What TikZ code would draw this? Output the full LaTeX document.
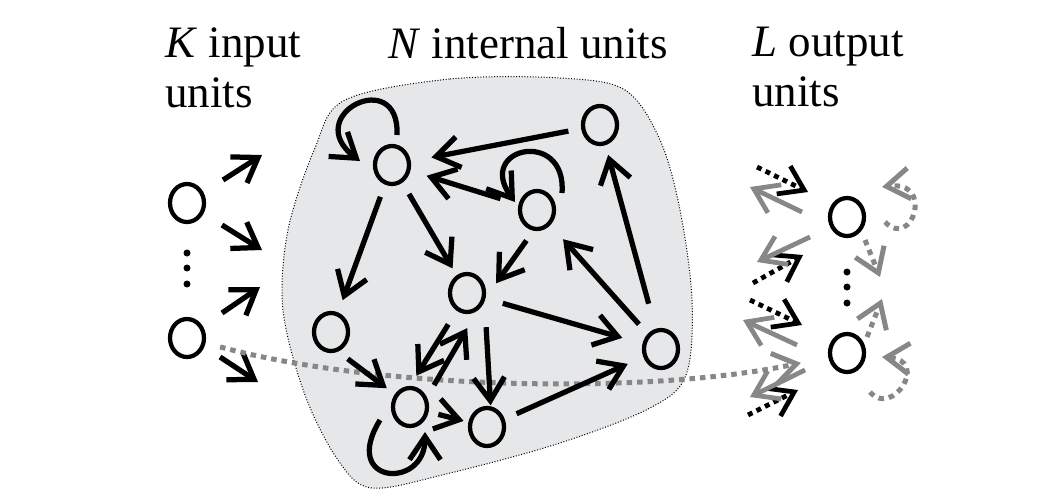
\documentclass[tikz,border=0pt]{standalone}
\usepackage{fontspec}
\setmainfont{Liberation Serif}
\usetikzlibrary{shapes.geometric,arrows.meta}
\definecolor{pool}{RGB}{230,231,233}
\definecolor{fback}{RGB}{135,135,135}
\tikzstyle{unit} = [draw,ellipse,line width=0.085cm,inner sep=0,minimum width=0.68cm,minimum height=0.76cm]
\tikzstyle{wire} = [->,line width=0.105cm]
\tikzstyle{link} = [wire,shorten <=0.26cm,shorten >=0.26cm]
\tikzstyle{readout} = [->,line width=0.095cm,dash pattern=on 0.1cm off 0.09cm]
\tikzstyle{feedback} = [->,line width=0.095cm,fback]
\tikzstyle{direct} = [->,line width=0.1cm,fback,dash pattern=on 0.11cm off 0.1cm]
\tikzstyle{groupname} = [align=left,inner sep=0,anchor=north west,font=\fontsize{25.6}{28.5}\selectfont]

\begin{document}
\begin{tikzpicture}[x=0.02cm,y=-0.02cm,>={Straight Barb[length=0.46cm,width=0.62cm]}]
  \useasboundingbox (0,0) rectangle (1064,498);
  % reservoir
  \fill[pool] plot[smooth cycle,tension=0.55] coordinates {(345,100) (450,79) (560,78) (625,90) (660,140) (680,210) (692,300) (686,375) (650,408) (560,443) (450,473) (372,488) (338,460) (305,395) (283,310) (288,230) (315,148)};
  \draw[densely dotted,line width=0.02cm] plot[smooth cycle,tension=0.55] coordinates {(345,100) (450,79) (560,78) (625,90) (660,140) (680,210) (692,300) (686,375) (650,408) (560,443) (450,473) (372,488) (338,460) (305,395) (283,310) (288,230) (315,148)};

  \node[groupname] (kin) at (165,27) {\textit{K} input\\units};
  \node[groupname] (nint) at (388,27) {\textit{N} internal units};
  \node[groupname] (lout) at (752,27) {\textit{L} output\\units};

  % input units
  \node[unit] (i1) at (187,203) {};
  \node[unit] (i2) at (187,338) {};
  \fill (187,253) circle[radius=0.07cm];
  \fill (187,268) circle[radius=0.07cm];
  \fill (187,284) circle[radius=0.07cm];
  \draw[wire] (i1) ++(36,-23) -- +(39,-25);
  \draw[wire] (i1) ++(35,22) -- +(40,25);
  \draw[wire] (i2) ++(35,-25) -- +(38,-26);
  \draw[wire] (i2) ++(33,19) -- +(38,25);

  % internal units
  \node[unit] (n1) at (392,165) {};
  \node[unit] (n2) at (600,125) {};
  \node[unit] (n3) at (537,210) {};
  \node[unit] (n4) at (467,293) {};
  \node[unit] (n5) at (331,332) {};
  \node[unit] (n6) at (410,407) {};
  \node[unit] (n7) at (487,427) {};
  \node[unit] (n8) at (661,349) {};

  % output units
  \node[unit] (o1) at (847,217) {};
  \node[unit] (o2) at (847,353) {};
  \fill (847,272) circle[radius=0.07cm];
  \fill (847,287) circle[radius=0.07cm];
  \fill (847,303) circle[radius=0.07cm];

  % input to output
  \draw[direct,shorten <=0.3cm,shorten >=0.56cm] (i2) .. controls (380,390) and (650,395) .. (o2);

  \draw[link,shorten >=0.42cm] (n2) -- (n1);
  \draw[link,shorten <=0.38cm,shorten >=0.34cm] (n3) -- (n1);
  \draw[link] (n1) -- (n5);
  \draw[link,shorten >=0.16cm] (n1) -- (n4);
  \draw[link,shorten <=0.24cm,shorten >=0.36cm] (n3.260) -- (n4.-15);
  \draw[link,shorten >=0.38cm] (n8) -- (n3);
  \draw[link,shorten <=0.52cm,shorten >=0.2cm] (n8) -- (n2);
  \draw[link,shorten <=0.36cm,shorten >=0.42cm] (n4) -- (n8);
  \draw[link,shorten >=0.34cm] (n7) -- (n8);
  \draw[link,shorten <=0.24cm,shorten >=0.2cm] (n5.-70) -- (n6.140);
  \draw[link,shorten <=0.2cm,shorten >=0.1cm] (n6) -- (n7);
  \draw[link,shorten <=0.52cm,shorten >=0.02cm] (n4.-25) -- (n7.80);
  \draw[link,shorten <=0.32cm,shorten >=0.24cm] (n4.240) -- (n6.north);
  \draw[link,shorten <=0.28cm,shorten >=0.4cm] (n6.30) -- (n4.-60);

  % self loops
  \draw[wire] ([shift={(5,-30)}]n1.center) .. controls +(3,-70) and +(-60,-46) .. ([shift={(-32,-4)}]n1.center);
  \draw[wire] ([shift={(25,-17)}]n3.center) .. controls +(5,-65) and +(-40,-55) .. ([shift={(-22,-8)}]n3.center);
  \draw[wire] ([shift={(-30,13)}]n6.center) .. controls +(-40,65) and +(0,58) .. ([shift={(15,25)}]n6.center);

  % readout and feedback
  \draw[readout] (o1) ++(-90,-50) -- +(51,25);
  \draw[readout] (o1) ++(-94,66) -- +(50,-28);
  \draw[readout] (o2) ++(-97,-53) -- +(52,25);
  \draw[readout] (o2) ++(-99,62) -- +(50,-25);
  \draw[feedback] (o1) ++(-45,-5) -- +(-52,-25);
  \draw[feedback] (o1) ++(-37,20) -- +(-53,25);
  \draw[feedback] (o2) ++(-50,-8) -- +(-54,-25);
  \draw[feedback] (o2) ++(-42,17) -- +(-55,27);

  % output to output
  \draw[direct] (o1) ++(18,23) -- +(15,37);
  \draw[direct] (o2) ++(20,-16) -- +(15,-38);
  \draw[direct] ([shift={(38,5)}]o1.center) .. controls +(27,28) and +(53,-7) .. ([shift={(35,-30)}]o1.center);
  \draw[direct] ([shift={(23,39)}]o2.center) .. controls +(22,26) and +(48,3) .. ([shift={(35,4)}]o2.center);
\end{tikzpicture}
\end{document}
